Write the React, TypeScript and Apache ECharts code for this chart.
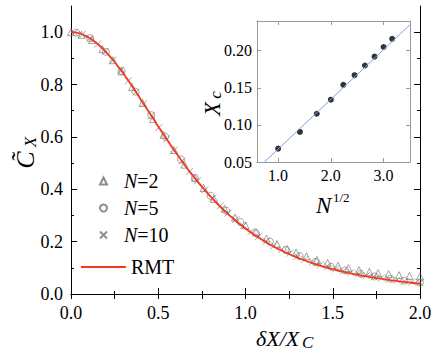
import React, { useEffect, useRef } from "react";
import * as echarts from "echarts";

// ---------- data ----------
const rmtX = [0, 0.05, 0.1, 0.15, 0.2, 0.25, 0.3, 0.35, 0.4, 0.45, 0.5, 0.55, 0.6, 0.65, 0.7, 0.75, 0.8, 0.85, 0.9, 0.95, 1.0,
  1.05, 1.1, 1.15, 1.2, 1.25, 1.3, 1.35, 1.4, 1.45, 1.5, 1.55, 1.6, 1.65, 1.7, 1.75, 1.8, 1.85, 1.9, 1.95, 2.0];
const rmtY = [1.0, 0.995, 0.98, 0.957, 0.925, 0.886, 0.842, 0.794, 0.743, 0.692, 0.64, 0.589, 0.541, 0.494, 0.45, 0.41, 0.372,
  0.337, 0.305, 0.276, 0.25, 0.226, 0.205, 0.185, 0.168, 0.152, 0.138, 0.126, 0.114, 0.104, 0.095, 0.086, 0.079, 0.072, 0.066,
  0.061, 0.056, 0.051, 0.047, 0.043, 0.04];

const n2X = [0.0, 0.06, 0.12, 0.18, 0.24, 0.29, 0.35, 0.41, 0.47, 0.53, 0.59, 0.65, 0.71, 0.76, 0.82, 0.88, 0.94, 1.0, 1.06, 1.12,
  1.18, 1.24, 1.29, 1.35, 1.41, 1.47, 1.53, 1.59, 1.65, 1.71, 1.76, 1.82, 1.88, 1.94, 2.0];
const n2Y = [1.0, 0.99, 0.97, 0.935, 0.893, 0.85, 0.79, 0.73, 0.668, 0.608, 0.55, 0.494, 0.444, 0.405, 0.363, 0.326, 0.292, 0.262,
  0.236, 0.212, 0.191, 0.172, 0.158, 0.144, 0.13, 0.119, 0.108, 0.099, 0.091, 0.085, 0.08, 0.076, 0.072, 0.069, 0.067];

const n5X = [0.03, 0.11, 0.2, 0.29, 0.37, 0.46, 0.54, 0.63, 0.71, 0.8, 0.89, 0.97, 1.06, 1.14, 1.23, 1.31, 1.4, 1.49, 1.57, 1.66,
  1.74, 1.83, 1.91, 2.0];
const n5Y = [0.998, 0.977, 0.925, 0.852, 0.773, 0.683, 0.601, 0.514, 0.443, 0.375, 0.318, 0.275, 0.232, 0.2, 0.168, 0.145, 0.122,
  0.104, 0.09, 0.077, 0.067, 0.058, 0.051, 0.044];

const n10X = [0.02, 0.064, 0.108, 0.152, 0.196, 0.24, 0.284, 0.328, 0.372, 0.416, 0.46, 0.504, 0.548, 0.592, 0.636, 0.68, 0.724,
  0.768, 0.812, 0.856, 0.9, 0.944, 0.988, 1.032, 1.076, 1.12, 1.164, 1.208, 1.252, 1.296, 1.34, 1.384, 1.428, 1.472, 1.516, 1.56,
  1.604, 1.648, 1.692, 1.736, 1.78, 1.824, 1.868, 1.912, 1.956, 2.0];
const n10Y = [0.999, 0.991, 0.976, 0.954, 0.926, 0.893, 0.855, 0.814, 0.771, 0.726, 0.681, 0.636, 0.592, 0.549, 0.508, 0.469,
  0.432, 0.398, 0.366, 0.337, 0.309, 0.284, 0.261, 0.239, 0.22, 0.202, 0.185, 0.17, 0.156, 0.144, 0.132, 0.122, 0.112, 0.104,
  0.096, 0.088, 0.082, 0.076, 0.07, 0.065, 0.061, 0.057, 0.053, 0.049, 0.046, 0.043];

// inset: X_c vs N^{1/2}
const insetX = [1.0, 1.414, 1.732, 2.0, 2.236, 2.449, 2.646, 2.828, 3.0, 3.162];
const insetY = [0.068, 0.0905, 0.115, 0.134, 0.154, 0.167, 0.18, 0.192, 0.205, 0.216];
const fitX = [0.74, 3.5];
const fitY = [0.05, 0.235];

const mainYLabels = [0, 0.2, 0.4, 0.6, 0.8, 1.0];
const mainYMinor = [0.1, 0.3, 0.5, 0.7, 0.9];
const insetXLabels = [1, 2, 3];
const insetYLabels = [0.05, 0.1, 0.15, 0.2];

const zip = (xs: number[], ys: number[]) => xs.map((x, i) => [x, ys[i]]);

const SERIF = "Liberation Serif, Times New Roman, serif";
const GRAY = "#707070";
const RED = "#f23a1c";
const INSET_AX = "#9a9a9a";

export default function App() {
  const ref = useRef<HTMLDivElement>(null);
  useEffect(() => {
    if (!ref.current) return;
    const chart = echarts.init(ref.current, undefined, { renderer: "svg" });
    const black = "#000";
    const hidden = { show: false };
    const txt = (x: number, y: number, text: string, size: number, italic: boolean, rot: number, align: string) => ({
      type: "text", x, y, rotation: rot,
      style: {
        text, font: `${italic ? "italic " : ""}${size}px ${SERIF}`,
        fill: black, textAlign: align, textVerticalAlign: "middle",
      },
    });
    const option: any = {
      animation: false,
      backgroundColor: "#fff",
      textStyle: { fontFamily: SERIF },
      grid: [
        { left: 71, top: 6, width: 349, height: 288 },
        { left: 257, top: 21, width: 153, height: 141, show: true, backgroundColor: "#fff", borderWidth: 0 },
      ],
      xAxis: [
        {
          gridIndex: 0, type: "value", min: 0, max: 2, interval: 0.5, position: "bottom",
          axisLine: { lineStyle: { color: black, width: 1 } },
          axisTick: { inside: true, length: 6, lineStyle: { color: black } },
          minorTick: { show: true, splitNumber: 2, length: 3, lineStyle: { color: black } },
          axisLabel: { color: black, fontSize: 18, fontFamily: SERIF, margin: 10, formatter: (v: number) => v.toFixed(1) },
          splitLine: hidden,
        },
        {
          gridIndex: 0, type: "value", min: 0, max: 2, interval: 0.25, position: "top",
          axisLine: { lineStyle: { color: black, width: 1 } },
          axisTick: { inside: true, length: 5, lineStyle: { color: black } },
          axisLabel: hidden, splitLine: hidden,
        },
        {
          gridIndex: 1, type: "value", min: 0.6, max: 3.5, position: "bottom",
          axisLine: { lineStyle: { color: INSET_AX } },
          axisTick: { inside: true, length: 4, customValues: insetXLabels, lineStyle: { color: INSET_AX } },
          axisLabel: { color: black, fontSize: 16, fontFamily: SERIF, margin: 5, customValues: insetXLabels, formatter: (v: number) => v.toFixed(1) },
          splitLine: hidden,
        },
        {
          gridIndex: 1, type: "value", min: 0.6, max: 3.5, position: "top",
          axisLine: { lineStyle: { color: INSET_AX } },
          axisTick: { inside: true, length: 4, customValues: insetXLabels, lineStyle: { color: INSET_AX } },
          axisLabel: hidden, splitLine: hidden,
        },
      ],
      yAxis: [
        {
          gridIndex: 0, type: "value", min: 0, max: 1.1, position: "left",
          axisLine: { show: true, lineStyle: { color: black, width: 1 } },
          axisTick: { show: true, inside: true, length: 6, customValues: mainYLabels, lineStyle: { color: black } },
          axisLabel: { color: black, fontSize: 18, fontFamily: SERIF, margin: 8, customValues: mainYLabels, formatter: (v: number) => v.toFixed(1) },
          splitLine: hidden,
        },
        {
          gridIndex: 0, type: "value", min: 0, max: 1.1, position: "left",
          axisLine: hidden,
          axisTick: { show: true, inside: true, length: 3, customValues: mainYMinor, lineStyle: { color: black } },
          axisLabel: hidden, splitLine: hidden,
        },
        {
          gridIndex: 0, type: "value", min: 0, max: 1.1, position: "right",
          axisLine: { show: true, lineStyle: { color: black, width: 1 } },
          axisTick: { show: true, inside: true, length: 6, customValues: mainYLabels, lineStyle: { color: black } },
          axisLabel: hidden, splitLine: hidden,
        },
        {
          gridIndex: 0, type: "value", min: 0, max: 1.1, position: "right",
          axisLine: hidden,
          axisTick: { show: true, inside: true, length: 3, customValues: mainYMinor, lineStyle: { color: black } },
          axisLabel: hidden, splitLine: hidden,
        },
        {
          gridIndex: 1, type: "value", min: 0.05, max: 0.24, position: "left",
          axisLine: { show: true, lineStyle: { color: INSET_AX } },
          axisTick: { show: true, inside: true, length: 4, customValues: insetYLabels, lineStyle: { color: INSET_AX } },
          axisLabel: { color: black, fontSize: 16, fontFamily: SERIF, margin: 5, customValues: insetYLabels, formatter: (v: number) => v.toFixed(2) },
          splitLine: hidden,
        },
        {
          gridIndex: 1, type: "value", min: 0.05, max: 0.24, position: "right",
          axisLine: { show: true, lineStyle: { color: INSET_AX } },
          axisTick: { show: true, inside: true, length: 4, customValues: insetYLabels, lineStyle: { color: INSET_AX } },
          axisLabel: hidden, splitLine: hidden,
        },
      ],
      legend: [
        {
          data: ["N=2", "N=5", "N=10"],
          orient: "vertical", left: 99, top: 171, padding: 0, itemGap: 7,
          itemWidth: 7, itemHeight: 7,
          formatter: (name: string) => `{i|N}{r|${name.slice(1)}}`,
          textStyle: {
            padding: [0, 0, 0, 12],
            rich: {
              i: { fontSize: 20, fontStyle: "italic", fontFamily: SERIF, color: black, lineHeight: 21 },
              r: { fontSize: 20, fontFamily: SERIF, color: black, lineHeight: 21 },
            },
          },
        },
        {
          data: ["RMT"], orient: "vertical", left: 80, top: 257, padding: 0,
          itemWidth: 45, itemHeight: 14,
          itemStyle: { opacity: 0 },
          lineStyle: { color: RED, width: 1.8 },
          textStyle: { fontSize: 20, fontFamily: SERIF, color: black },
        },
      ],
      series: [
        {
          name: "N=2", type: "scatter", xAxisIndex: 0, yAxisIndex: 0, symbol: "triangle", symbolSize: 7,
          itemStyle: { color: "rgba(255,255,255,0)", borderColor: GRAY, borderWidth: 0.8 },
          data: zip(n2X, n2Y),
        },
        {
          name: "N=5", type: "scatter", xAxisIndex: 0, yAxisIndex: 0, symbol: "circle", symbolSize: 7,
          itemStyle: { color: "rgba(255,255,255,0)", borderColor: GRAY, borderWidth: 0.8 },
          data: zip(n5X, n5Y),
        },
        {
          name: "N=10", type: "scatter", xAxisIndex: 0, yAxisIndex: 0, symbol: "path://M0 0L10 10M10 0L0 10", symbolSize: 7,
          itemStyle: { color: "rgba(255,255,255,0)", borderColor: GRAY, borderWidth: 0.8 },
          data: zip(n10X, n10Y),
        },
        {
          name: "RMT", type: "line", xAxisIndex: 0, yAxisIndex: 0, symbol: "none", smooth: true,
          lineStyle: { color: RED, width: 1.8 }, itemStyle: { color: RED },
          data: zip(rmtX, rmtY),
        },
        {
          name: "fit", type: "line", xAxisIndex: 2, yAxisIndex: 4, symbol: "none",
          lineStyle: { color: "#7f9de8", width: 1 },
          data: zip(fitX, fitY),
        },
        {
          name: "Xc", type: "scatter", xAxisIndex: 2, yAxisIndex: 4, symbol: "circle", symbolSize: 6,
          itemStyle: { color: "#000" },
          data: zip(insetX, insetY),
        },
      ],
      graphic: [
        txt(25, 160, "C\u0303", 26, true, Math.PI / 2, "center"),
        txt(30, 142, "X", 17, true, Math.PI / 2, "center"),
        txt(212, 109, "X", 23, true, Math.PI / 2, "center"),
        txt(215, 95, "c", 17, true, Math.PI / 2, "center"),
        txt(256, 338, "δX/X", 22, true, 0, "left"),
        txt(302, 342, "C", 17, true, 0, "left"),
        txt(316, 205, "N", 23, true, 0, "left"),
        txt(333, 197, "1/2", 13, false, 0, "left"),
      ],
    };
    chart.setOption(option);
    return () => chart.dispose();
  }, []);
  return <div ref={ref} style={{ position: "fixed", left: 0, top: 0, width: 436, height: 354, background: "#fff" }} />;
}
